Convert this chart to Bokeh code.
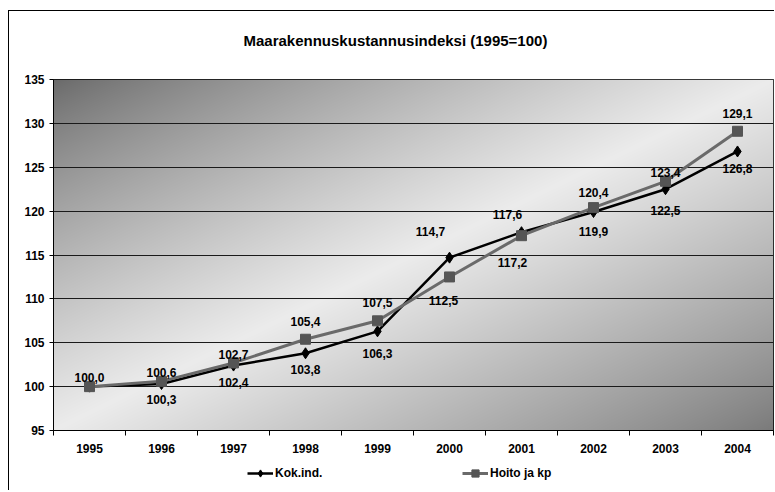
import numpy as np
from bokeh.plotting import figure
from bokeh.layouts import column
from bokeh.models import (Range1d, FixedTicker, SingleIntervalTicker, Legend,
                          LegendItem, ColumnDataSource, Title)
from bokeh.embed import file_html
from bokeh.resources import INLINE
from bokeh.core.properties import value

# ---------------- data ----------------
years = ["1995", "1996", "1997", "1998", "1999", "2000", "2001", "2002", "2003", "2004"]
kok_ind = [100.0, 100.3, 102.4, 103.8, 106.3, 114.7, 117.6, 119.9, 122.5, 126.8]
hoito_kp = [100.0, 100.6, 102.7, 105.4, 107.5, 112.5, 117.2, 120.4, 123.4, 129.1]
y_min, y_max, y_step = 95, 135, 5
title_text = "Maarakennuskustannusindeksi (1995=100)"
series_names = ["Kok.ind.", "Hoito ja kp"]

# data-label placement (pixel nudges, like manually moved Excel labels)
kok_label_show = [False, True, True, True, True, True, True, True, True, True]
kok_label_dx = [0, 0, 0, 0, 0, -19, -14, 0, 0, 0]
kok_label_dy = [0, 16, 17, 16, 22, -26, -18, 19, 21, 17]
hoito_label_show = [True] * 10
hoito_label_dx = [0, 0, 0, 0, 0, -6, -9, 0, 0, 0]
hoito_label_dy = [-9, -9, -8, -18, -18, 24, 27, -15, -9, -18]

FONT = "Liberation Sans"
KOK_STYLE = dict(line_color="black", line_width=2.5)
KOK_MARK = dict(marker="diamond", size=11, fill_color="black", line_color="black")
HOITO_STYLE = dict(line_color="#6a6a6a", line_width=3)
HOITO_MARK = dict(marker="square", size=10, fill_color="#555555", line_color="#555555")

xs = list(range(len(years)))
x0, x1 = -0.5, len(years) - 0.5

p = figure(width=765, height=449, title=None,
           x_range=Range1d(x0, x1), y_range=Range1d(y_min, y_max),
           output_backend="svg", toolbar_location=None,
           min_border_left=44, min_border_right=1,
           min_border_top=68, min_border_bottom=30,
           border_fill_color="white", background_fill_color="white")

# --------------- gradient plot-area background ---------------
H, W = 351, 720
yy, xx = np.mgrid[0:H, 0:W]
# row 0 of the image array is the bottom of the plot area
ty = (H - 1 - yy) / (H - 1)           # 0 at top, 1 at bottom
tx = xx / (W - 1)
t = (tx + ty) / 2.0
dark = 106 + 16 * t
light = 236
prof = np.clip(1 - np.abs(2 * t - 1), 0, 1) ** 0.85
v = (dark + (light - dark) * prof).astype(np.uint8)
img = np.empty((H, W), dtype=np.uint32)
view = img.view(dtype=np.uint8).reshape((H, W, 4))
view[:, :, 0] = v
view[:, :, 1] = v
view[:, :, 2] = v
view[:, :, 3] = 255
p.image_rgba(image=[img], x=x0, y=y_min, dw=x1 - x0, dh=y_max - y_min, level="image")

# --------------- axes / grid ---------------
p.outline_line_color = "black"
p.outline_line_width = 1
p.xgrid.visible = False
p.ygrid.ticker = SingleIntervalTicker(interval=y_step)
p.ygrid.grid_line_color = "#1a1a1a"
p.ygrid.grid_line_width = 1

p.yaxis.ticker = SingleIntervalTicker(interval=y_step)
p.yaxis.axis_line_color = "black"
p.yaxis.major_tick_line_color = "black"
p.yaxis.major_tick_out = 4
p.yaxis.major_tick_in = 0
p.yaxis.minor_tick_line_color = None
p.yaxis.major_label_standoff = 5
p.yaxis.major_label_text_font = FONT
p.yaxis.major_label_text_font_style = "bold"
p.yaxis.major_label_text_font_size = "12px"
p.yaxis.major_label_text_color = "black"

p.xaxis.ticker = FixedTicker(ticks=xs, minor_ticks=[x - 0.5 for x in xs] + [x1])
p.xaxis.major_label_overrides = {x: y for x, y in zip(xs, years)}
p.xaxis.axis_line_color = "black"
p.xaxis.major_tick_line_color = None
p.xaxis.major_tick_out = 0
p.xaxis.major_tick_in = 0
p.xaxis.minor_tick_line_color = "black"
p.xaxis.minor_tick_out = 5
p.xaxis.minor_tick_in = 0
p.xaxis.major_label_standoff = 8
p.xaxis.major_label_text_font = FONT
p.xaxis.major_label_text_font_style = "bold"
p.xaxis.major_label_text_font_size = "12px"
p.xaxis.major_label_text_color = "black"

# --------------- series ---------------
p.line(xs, kok_ind, **KOK_STYLE)
p.scatter(xs, kok_ind, **KOK_MARK)
p.line(xs, hoito_kp, **HOITO_STYLE)
p.scatter(xs, hoito_kp, **HOITO_MARK)

def fmt(v):
    return f"{v:.1f}".replace(".", ",")

lab_x, lab_y, lab_t, lab_dx, lab_dy = [], [], [], [], []
for vals, show, dx, dy in [(kok_ind, kok_label_show, kok_label_dx, kok_label_dy),
                           (hoito_kp, hoito_label_show, hoito_label_dx, hoito_label_dy)]:
    for i, val in enumerate(vals):
        if show[i]:
            lab_x.append(xs[i]); lab_y.append(val); lab_t.append(fmt(val))
            lab_dx.append(dx[i]); lab_dy.append(dy[i])
lab_src = ColumnDataSource(dict(x=lab_x, y=lab_y, text=lab_t, dx=lab_dx, dy=lab_dy))
p.text(x="x", y="y", text="text", x_offset="dx", y_offset="dy", source=lab_src,
       text_align="center", text_baseline="middle", text_font=value(FONT),
       text_font_style="bold", text_font_size="12px", text_color="black")

# --------------- title (spacer keeps it away from the plot area) ---------------
p.add_layout(Title(text=" ", text_font_size="12px"), "above")
p.add_layout(Title(text=title_text, text_font=FONT, text_font_style="bold",
                   text_font_size="15px", text_color="black",
                   align="left", offset=190), "above")

# --------------- legend strip below the chart ---------------
# the strip's ranges keep its copies of the series out of view: only the legend shows
q = figure(width=765, height=30, title=None, output_backend="svg",
           toolbar_location=None, x_range=Range1d(1000, 1001), y_range=Range1d(1000, 1001),
           min_border_left=44, min_border_right=1, min_border_top=0,
           min_border_bottom=0, border_fill_color="white",
           background_fill_color="white")
q.axis.visible = False
q.grid.visible = False
q.outline_line_color = None
lk = q.line(xs, kok_ind, **KOK_STYLE)
mk = q.scatter(xs, kok_ind, **KOK_MARK)
lh = q.line(xs, hoito_kp, **HOITO_STYLE)
mh = q.scatter(xs, hoito_kp, **HOITO_MARK)
legend = Legend(items=[LegendItem(label=series_names[0], renderers=[lk, mk]),
                       LegendItem(label=series_names[1], renderers=[lh, mh])],
                location=(194, 8), orientation="horizontal",
                margin=0, padding=0, spacing=135, label_width=52,
                border_line_color=None, background_fill_alpha=0,
                glyph_width=26, glyph_height=18, label_standoff=2,
                label_text_font=FONT, label_text_font_style="bold",
                label_text_font_size="12px", label_text_color="black")
q.add_layout(legend)

page = column(p, q, spacing=0)
page.styles = {"border-left": "1px solid black", "border-top": "1px solid black",
               "margin-top": "10px", "margin-left": "8px"}

open("out.html", "w").write(file_html(page, INLINE))
